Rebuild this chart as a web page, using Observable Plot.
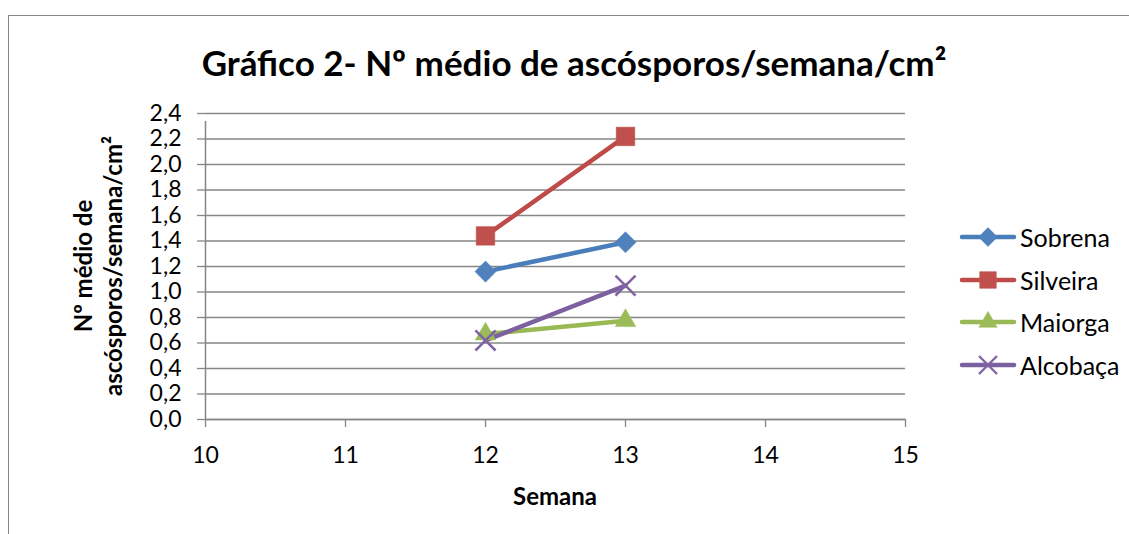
<!DOCTYPE html>
<html>
<head>
<meta charset="utf-8">
<script src="https://cdn.jsdelivr.net/npm/d3@7"></script>
<script src="https://cdn.jsdelivr.net/npm/@observablehq/plot@0.6"></script>
<style>
  html, body { margin: 0; padding: 0; background: #fff; }
  #wrap { position: relative; width: 1129px; height: 534px; overflow: hidden; font-family: Lato, "Open Sans", sans-serif; color: #000; }
  #frame { position: absolute; left: 8px; top: 15px; right: -10px; bottom: -10px; border: 1.5px solid #868686; }
  #chart { position: absolute; left: 0; top: 0; }
  .lbl { position: absolute; transform: translate(-50%, -50%); white-space: nowrap; font-weight: bold; }
  #title { left: 574px; top: 62px; font-size: 35px; }
  #xlabel { left: 555px; top: 495px; font-size: 24px; }
  #ylabel { left: 98px; top: 266px; font-size: 24px; line-height: 30px; text-align: center; transform: translate(-50%, -50%) rotate(-90deg); }
  #legend { position: absolute; left: 958px; top: 216px; }
  .row { display: flex; align-items: center; height: 42.5px; font-size: 25px; }
  .row svg { margin-right: 2px; }
</style>
</head>
<body>
<div id="wrap">
  <div id="frame"></div>
  <div id="chart"></div>
  <div id="title" class="lbl">Gráfico 2- Nº médio de ascósporos/semana/cm²</div>
  <div id="ylabel" class="lbl">Nº médio de<br>ascósporos/semana/cm²</div>
  <div id="xlabel" class="lbl">Semana</div>
  <div id="legend"></div>
</div>
<script>
// ---- data ----
const weeks = [12, 13];
const seriesNames = ["Sobrena", "Silveira", "Maiorga", "Alcobaça"];
const sobrena = [1.16, 1.39];
const silveira = [1.44, 2.22];
const maiorga = [0.67, 0.775];
const alcobaca = [0.62, 1.05];
const xTicks = [10, 11, 12, 13, 14, 15];
const yTicks = [0, 0.2, 0.4, 0.6, 0.8, 1.0, 1.2, 1.4, 1.6, 1.8, 2.0, 2.2, 2.4];

const lineColors = ["#4A7EBB", "#BE4B48", "#98B954", "#7D60A0"];
const markColors = ["#4F81BD", "#C0504D", "#9BBB59", "#8064A2"];
const symbols = ["diamond2", "square", "triangle", "times"];
const radii = [9.5, 10.5, 7.6, 9.2];

const valuesBySeries = [sobrena, silveira, maiorga, alcobaca];
const rows = [];
seriesNames.forEach((s, i) => weeks.forEach((w, j) => rows.push({series: s, week: w, value: valuesBySeries[i][j]})));

const fmt = d => d.toFixed(1).replace(".", ",");
const gray = "#868686";

const dotMarks = seriesNames.map((s, i) => Plot.dot(rows.filter(d => d.series === s), {
  x: "week", y: "value", symbol: () => symbols[i], r: radii[i],
  fill: i === 3 ? "none" : markColors[i],
  stroke: markColors[i],
  strokeWidth: i === 3 ? 2.6 : 0.5
}));

const plot = Plot.plot({
  width: 1129,
  height: 534,
  marginLeft: 205,
  marginRight: 224,
  marginTop: 113,
  marginBottom: 115,
  style: { fontFamily: "Lato, 'Open Sans', sans-serif", fontSize: "23px", color: "#000", background: "transparent", overflow: "visible" },
  x: { domain: [10, 15], ticks: xTicks },
  y: { domain: [0, 2.4], ticks: yTicks },
  symbol: { domain: symbols, range: symbols },
  marks: [
    Plot.gridY(yTicks, { stroke: gray, strokeOpacity: 1, strokeWidth: 1.3 }),
    Plot.axisY(yTicks, { tickSize: 8, tickPadding: 16, tickFormat: fmt, stroke: gray, strokeWidth: 1.3, fill: "#000", label: null, fontSize: 23 }),
    Plot.axisX(xTicks, { tickSize: 8, tickPadding: 19, tickFormat: d => String(d), stroke: gray, strokeWidth: 1.3, fill: "#000", label: null, fontSize: 23 }),
    Plot.ruleY([0], { stroke: gray, strokeWidth: 1.5 }),
    Plot.ruleX([10], { stroke: gray, strokeWidth: 1.5, y1: 0, y2: 2.4, insetBottom: -8 }),
    ...seriesNames.map((s, i) => Plot.line(rows.filter(d => d.series === s), {
      x: "week", y: "value", stroke: lineColors[i], strokeWidth: 4.5, strokeLinecap: "round"
    })),
    ...dotMarks
  ]
});
document.getElementById("chart").appendChild(plot);

// ---- legend ----
const legend = d3.select("#legend");
seriesNames.forEach((s, i) => {
  const row = legend.append("div").attr("class", "row");
  const svg = row.append("svg").attr("width", 60).attr("height", 26);
  svg.append("line").attr("x1", 4).attr("x2", 56).attr("y1", 13).attr("y2", 13)
    .attr("stroke", lineColors[i]).attr("stroke-width", 4.5).attr("stroke-linecap", "round");
  const symMap = { diamond2: d3.symbolDiamond2, square: d3.symbolSquare, triangle: d3.symbolTriangle, times: d3.symbolTimes };
  const size = Math.PI * radii[i] * radii[i] * 0.8;
  svg.append("path").attr("transform", "translate(30,13)")
    .attr("d", d3.symbol(symMap[symbols[i]], size)())
    .attr("fill", i === 3 ? "none" : markColors[i])
    .attr("stroke", markColors[i])
    .attr("stroke-width", i === 3 ? 2.4 : 0.5);
  row.append("span").text(s);
});
</script>
</body>
</html>
